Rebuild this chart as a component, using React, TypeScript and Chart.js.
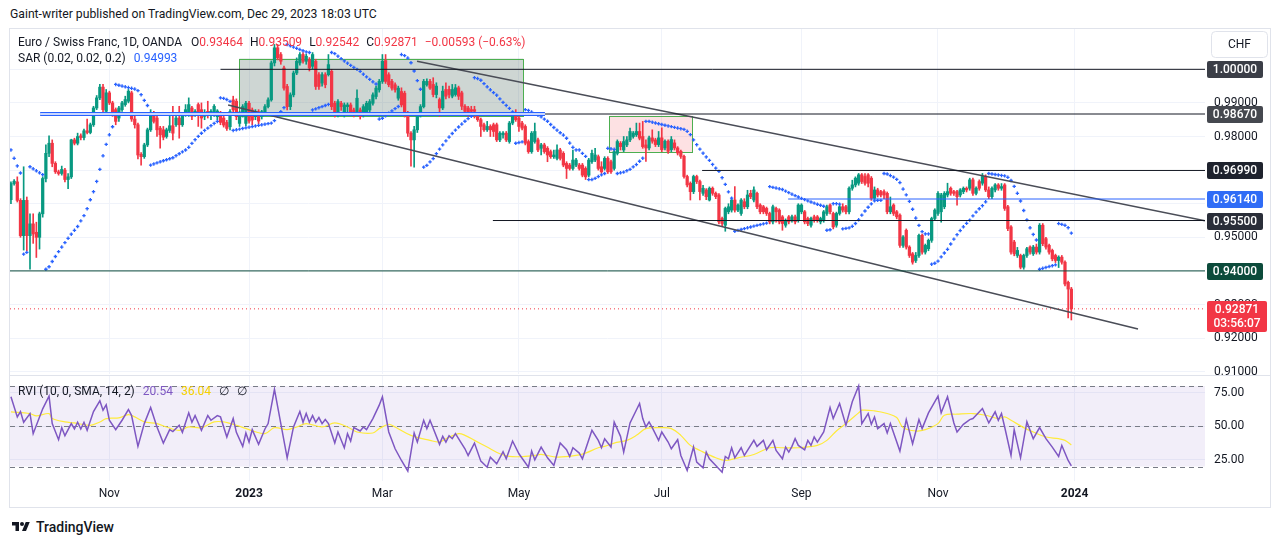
import React, { useEffect, useRef } from "react";
import { Chart, registerables } from "chart.js";

Chart.register(...registerables);

const FONT = "Roboto, 'Noto Sans', Arial, sans-serif";
const INK = "#131722";
const GREEN = "#089981";
const RED = "#f23645";
const BLUE = "#2962ff";

// ---------- daily candles, EUR/CHF, prices in 1/10000 (Sep 19 2022 .. Dec 29 2023) ----------
const openP = [
  9612,9660,9665,9610,9505,9610,9505,9540,9515,9500,
  9570,9675,9750,9780,9720,9695,9690,9700,9672,9680,
  9790,9780,9802,9797,9817,9812,9835,9885,9915,9947,
  9875,9930,9900,9880,9855,9880,9895,9905,9930,9852,
  9835,9747,9740,9775,9820,9870,9855,9825,9820,9800,
  9818,9832,9835,9855,9835,9865,9865,9885,9865,9895,
  9880,9860,9875,9865,9865,
  9859,9866,9855,9842,9829,
  9909,9905,9839,9864,9839,9899,9879,9859,9874,9859,
  9874,9889,9909,10019,10064,10044,10004,9949,9889,9924,
  9989,10019,10044,10024,10029,10009,10024,9984,9959,9984,
  9984,9994,9899,9864,9899,9864,9889,9894,9879,9869,
  9879,9864,9874,9879,9899,9919,9939,9964,10026,9984,
  9964,9954,9914,9934,9929,9869,9810,9790,9820,9864,
  9889,9954,9964,
  9955,9925,9910,9885,9940,9940,9920,
  9925,9945,9930,9890,9885,9880,9880,9860,9850,9835,
  9820,9830,9835,9835,9790,9805,9810,9785,9840,9865,
  9855,9840,9830,9785,9755,9785,9790,9765,9775,9765,
  9755,9740,9735,9760,9750,9720,9715,9705,9715,9715,
  9715,9705,9685,9725,9730,9740,9710,9705,9735,9725,
  9705,9750,9780,9760,9775,9790,9800,9805,9815,9800,
  9775,9766,9796,9790,9776,9796,9766,9786,9761,9781,
  9766,9756,9741,9681,9661,9636,9681,9666,9631,9641,
  9611,9646,9631,9626,9556,9536,9576,9581,9611,9581,
  9571,9606,9591,9631,9611,9631,9596,9591,9586,9571,
  9546,9586,9581,9561,9536,9561,9551,9561,9551,9576,
  9576,9556,9536,9561,9561,9546,9551,9571,9596,9571,
  9536,9571,9591,9591,9576,9646,9656,9661,9686,9681,
  9686,9676,9616,9641,9636,9636,9631,9576,9596,9576,
  9566,9476,9521,9471,9451,9431,9446,9506,9456,9466,
  9491,9556,9571,9576,9591,9626,9646,9636,9636,9626,
  9636,9646,9646,9671,9631,9666,9661,9681,9641,9621,
  9641,9656,9646,9656,9591,9531,9486,9446,9446,9411,
  9446,9471,9451,9471,9456,9536,9496,9476,9461,9446,
  9431,9441,9426,9366,9346,
];
const highP = [
  9665,9672,9680,9615,9710,9620,9570,9570,9545,9575,
  9680,9775,9802,9790,9725,9700,9712,9705,9690,9792,
  9795,9810,9808,9822,9852,9840,9890,9922,9955,9955,
  9940,9935,9905,9885,9890,9905,9920,9940,9935,9862,
  9840,9752,9780,9825,9880,9875,9860,9830,9830,9825,
  9862,9890,9860,9890,9870,9895,9915,9890,9880,9900,
  9900,9880,9905,9880,9895,
  9880,9875,9862,9848,9880,
  9920,9912,9875,9895,9905,9905,9885,9880,9880,9878,
  9895,9915,10025,10074,10074,10050,10010,9955,9930,9995,
  10034,10050,10050,10045,10035,10050,10030,9990,9990,9990,
  10044,10000,9905,9910,9905,9900,9900,9900,9885,9939,
  9885,9895,9905,9910,9930,9950,9970,10044,10044,9990,
  9970,9960,9950,9945,9935,9875,9815,9830,9870,9895,
  9970,9972,9970,
  9975,9960,9915,9950,9960,9950,9955,
  9955,9950,9935,9895,9890,9890,9890,9865,9855,9840,
  9845,9835,9840,9840,9815,9815,9815,9845,9870,9880,
  9860,9845,9835,9790,9815,9840,9795,9780,9780,9770,
  9760,9760,9775,9765,9755,9725,9720,9760,9735,9720,
  9720,9710,9735,9760,9765,9745,9725,9740,9740,9730,
  9760,9790,9785,9800,9800,9825,9815,9840,9840,9845,
  9790,9801,9820,9795,9815,9826,9790,9790,9800,9790,
  9770,9760,9745,9685,9665,9685,9685,9670,9655,9645,
  9650,9650,9635,9630,9560,9590,9600,9615,9651,9600,
  9615,9615,9640,9640,9650,9635,9600,9595,9590,9575,
  9596,9590,9585,9565,9555,9565,9566,9566,9600,9600,
  9580,9560,9560,9566,9565,9560,9580,9596,9600,9575,
  9575,9596,9600,9595,9650,9670,9680,9690,9690,9690,
  9690,9681,9650,9646,9640,9641,9635,9620,9600,9580,
  9570,9505,9525,9475,9455,9455,9510,9510,9480,9495,
  9560,9585,9636,9631,9636,9661,9650,9640,9640,9645,
  9650,9650,9676,9676,9650,9671,9690,9686,9650,9650,
  9660,9660,9660,9660,9595,9535,9491,9470,9450,9450,
  9470,9475,9476,9480,9541,9541,9500,9480,9465,9450,
  9445,9446,9430,9370,9351,
];
const lowP = [
  9600,9655,9605,9500,9462,9460,9405,9482,9440,9465,
  9560,9665,9740,9710,9690,9685,9685,9665,9645,9675,
  9775,9775,9790,9790,9808,9808,9830,9880,9910,9870,
  9865,9895,9860,9835,9845,9875,9890,9900,9845,9825,
  9733,9715,9735,9770,9815,9840,9800,9765,9790,9795,
  9812,9790,9830,9795,9830,9860,9860,9850,9860,9830,
  9825,9850,9855,9850,9860,
  9850,9835,9828,9818,9820,
  9870,9850,9830,9858,9832,9840,9835,9850,9838,9852,
  9870,9885,9905,10010,10028,10015,9938,9879,9880,9918,
  9984,10012,10018,10015,9995,10002,9940,9940,9950,9945,
  9980,9880,9858,9858,9878,9858,9870,9862,9858,9862,
  9852,9858,9868,9872,9893,9912,9932,9958,9958,9948,
  9938,9932,9908,9888,9858,9800,9712,9709,9812,9858,
  9885,9950,9940,
  9918,9915,9860,9880,9912,9915,9915,
  9920,9910,9880,9868,9860,9865,9855,9845,9800,9815,
  9815,9800,9800,9785,9785,9795,9785,9780,9835,9845,
  9815,9820,9775,9750,9750,9780,9755,9745,9750,9725,
  9735,9735,9730,9730,9710,9675,9700,9700,9710,9700,
  9680,9672,9680,9720,9725,9700,9690,9700,9690,9690,
  9700,9745,9760,9755,9770,9785,9795,9800,9790,9765,
  9726,9760,9780,9770,9770,9755,9760,9750,9755,9760,
  9745,9735,9676,9650,9611,9630,9660,9611,9625,9612,
  9608,9625,9615,9540,9535,9518,9570,9575,9575,9576,
  9565,9585,9585,9615,9605,9585,9570,9570,9565,9540,
  9540,9545,9540,9521,9530,9540,9545,9540,9545,9570,
  9540,9535,9530,9545,9545,9540,9545,9565,9570,9525,
  9530,9566,9575,9570,9570,9640,9650,9655,9660,9655,
  9650,9610,9610,9620,9620,9615,9570,9570,9565,9555,
  9470,9470,9465,9440,9420,9425,9440,9450,9450,9460,
  9485,9550,9565,9545,9585,9620,9625,9625,9596,9620,
  9630,9635,9640,9625,9626,9640,9655,9636,9615,9615,
  9635,9640,9640,9580,9520,9450,9445,9440,9406,9405,
  9440,9450,9446,9450,9450,9475,9465,9450,9430,9425,
  9410,9420,9355,9260,9254,
];
const closeP = [
  9660,9667,9610,9505,9610,9505,9540,9510,9500,9570,
  9675,9750,9780,9720,9695,9690,9702,9672,9680,9790,
  9780,9800,9797,9817,9812,9835,9885,9915,9947,9880,
  9930,9900,9870,9845,9885,9900,9910,9935,9852,9835,
  9745,9740,9775,9820,9870,9845,9820,9805,9798,9820,
  9832,9810,9855,9835,9865,9880,9895,9860,9875,9865,
  9855,9870,9865,9875,9890,
  9876,9842,9834,9824,9874,
  9879,9859,9869,9889,9899,9846,9849,9874,9846,9874,
  9889,9909,10019,10064,10034,10024,9944,9889,9924,9989,
  10024,10044,10024,10039,10004,10044,9949,9949,9984,9954,
  10014,9889,9864,9904,9889,9894,9894,9869,9864,9914,
  9859,9889,9899,9904,9924,9944,9964,10024,9964,9954,
  9944,9939,9944,9894,9864,9810,9790,9820,9864,9889,
  9964,9964,9944,
  9925,9950,9885,9935,9920,9925,9940,
  9945,9920,9890,9875,9868,9875,9875,9850,9830,9820,
  9830,9820,9815,9790,9810,9810,9790,9840,9865,9850,
  9830,9825,9780,9755,9810,9815,9760,9775,9755,9745,
  9740,9745,9760,9735,9715,9705,9705,9730,9730,9705,
  9685,9680,9730,9750,9745,9705,9695,9735,9695,9695,
  9755,9785,9770,9785,9790,9815,9810,9815,9795,9770,
  9766,9796,9786,9776,9796,9761,9786,9756,9791,9766,
  9751,9741,9681,9656,9636,9681,9666,9636,9646,9621,
  9646,9631,9621,9546,9541,9586,9591,9611,9581,9596,
  9611,9591,9626,9621,9641,9591,9576,9576,9571,9546,
  9591,9576,9546,9541,9551,9546,9561,9546,9596,9596,
  9546,9541,9556,9551,9551,9556,9576,9591,9576,9531,
  9571,9591,9581,9576,9646,9656,9676,9686,9666,9661,
  9661,9616,9641,9626,9626,9626,9576,9591,9571,9561,
  9476,9501,9471,9446,9426,9446,9506,9456,9476,9491,
  9556,9581,9631,9626,9631,9636,9631,9631,9621,9641,
  9646,9641,9671,9631,9646,9646,9681,9641,9621,9646,
  9656,9646,9651,9586,9526,9456,9451,9461,9411,9446,
  9466,9456,9471,9456,9536,9481,9471,9456,9436,9431,
  9441,9426,9361,9346,9287,
];

// ---------- axes ----------
const dateTickIdx = [31, 75, 117, 160, 205, 249, 292, 335];
const dateTickLabels = ["Nov", "2023", "Mar", "May", "Jul", "Sep", "Nov", "2024"];
const priceTicks = [0.91, 0.92, 0.93, 0.94, 0.95, 0.96, 0.97, 0.98, 0.99, 1.0];
const rviTicks = [25, 50, 75];
const rviBands = [80, 50, 20];
const X_MIN = -0.3;
const X_MAX = 376.1;
const Y_MIN = 0.90932;
const Y_MAX = 1.012;
const RVI_MIN = 9.2;
const RVI_MAX = 87.5;

// ---------- drawings ----------
const levelPrices = [1.0, 0.9867, 0.9699, 0.9614, 0.955, 0.94];
const levelStart = [66, 168.2, 217.7, 244.8, 151.8, -0.3];
const blueLevelSpan = [9.2, 168.2];
const channelUpperX = [127.9, 376.1];
const channelUpperY = [1.00239, 0.95493];
const channelLowerX = [68.4, 355];
const channelLowerY = [0.98937, 0.92269];
const greyBoxX = [71.9, 161.4];
const greyBoxY = [0.9863, 1.0032];
const pinkBoxX = [188.5, 214.6];
const pinkBoxY = [0.97543, 0.9862];
const lastPrice = 0.92871;
const sarSettings = [0.02, 0.02, 0.2];
const sarSeed = [0.976, 0.945, 0.08];

// ---------- RVI (10, SMA 14) ----------
const rviX = [0,2,3,4,6,7,10,12,13,15,16,17,19,20,21,22,23,24,26,28,29,30,31,33,35,37,38,40,42,44,46,48,50,51,53,54,56,57,58,60,62,63,65,66,68,70,71,73,74,75,76,78,80,81,83,85,87,89,91,92,93,94,95,96,97,98,99,100,102,103,105,106,107,108,110,111,112,114,116,117,119,121,123,125,127,128,130,131,132,135,136,137,138,139,140,143,144,146,148,150,151,153,155,156,158,160,163,164,165,
  167,169,171,173,175,176,177,179,180,183,185,186,187,189,190,192,193,195,198,199,200,201,202,204,205,207,208,210,211,213,215,216,218,219,220,222,224,225,226,227,228,230,231,234,235,237,238,240,241,243,244,245,246,247,248,250,251,252,253,254,256,258,259,261,263,265,267,268,270,271,272,273,275,276,277,280,282,284,286,287,289,292,293,295,297,298,300,302,303,304,306,308,310,311,312,313,315,316,318,320,322,324,326,328,330,331,333,334];
const rviVal = [72,57,61,53,59.5,44.5,63,72.5,52,40,49,43,52,48,53,48,53,47,61,69,62,66,54.5,47.5,54.5,62.5,58,35,52,64,49.5,37.5,47.5,46,50.75,45.5,60,53,58,47,58,54.5,58,57,42,55.75,45.5,35,45,38.25,47.5,36.5,48,52,77.5,52,26.5,49.5,61,53,59.5,53,58,53,56.5,52,55,52,37.5,45.75,34,44.5,39,49,46.5,49.5,47.5,55.75,65.75,72,45.75,33.25,24.5,16.5,45,38.25,54.5,48.25,54.5,36.5,42.5,38.25,43,40.75,44.5,33.25,28.25,37.5,24,19.5,27,22,31,25.75,39,29.5,19.5,31.5,25,
  34.5,26.5,20.75,37.5,32.5,27.5,34,30,25.75,47,39.5,34,40.75,34.5,53.25,42.5,30.75,52.5,67,55.75,49.5,53.25,49,39.5,45.75,38.25,33.25,40,28.25,17,34.5,23.25,19,30.75,25.75,20.75,15.75,27.5,25.75,34,26.5,34,28.25,39.5,35,39.5,32.5,39.5,32,25.75,34.5,30.75,35,40.75,35.75,32.5,39.5,35.75,42,38.25,45.75,64,55.75,67,50.75,68.25,80,52,59.5,51.5,57,48.25,52,45,52,31.5,55,37,55,48.25,60,72.5,60,72,52.5,45.75,51.5,55,55.75,58.25,63.25,52.5,60.75,54.5,59.5,49.5,28.25,47.5,26.5,53.25,40.75,49,40.75,34.5,27.5,35.75,24.5,20.54];
const sigX = [0,6,8,12,13,17,20,25,28,30,34,37,39,42,46,49,53,56,60,64,67,71,75,80,83,87,90,93,98,102,106,109,114,116,119,121,126,132,135,137,141,143,146,150,154,157,162,165,
  167,172,178,181,185,187,190,194,197,200,205,208,211,214,217,222,225,229,234,239,243,248,254,257,260,263,267,268,272,276,279,281,285,288,292,294,298,303,307,311,313,315,319,322,326,330,332,334];
const sigVal = [60.75,59.5,57.75,59.5,55.75,53.25,52.5,50.75,53.25,55.75,56.25,58.75,57,53.25,52,49.5,47,49.5,49,53.25,53.25,50.75,47.5,44.5,49,47.5,49.5,52,49.5,52.5,49.5,45.75,45,48.25,51.5,49.5,43.25,39.5,38.25,40.75,44.5,43.25,39.5,34.5,29.5,27.5,27.5,28.25,
  29,27,28.25,30,34,35,37.5,39.5,43.25,48.25,49,48.25,43.25,35.75,32,26.5,24.5,26.5,29,34,34,34,35.75,39.5,46.5,52,60,62,61.5,59.5,56.5,49,46.5,47.5,52,58.25,59,59.5,58.25,55.75,57,54.5,49,45.75,42,40.75,39.5,36.04];

// Parabolic SAR (TradingView ta.sar definition) from the candles
function parabolicSar(h: number[], l: number[]) {
  const [start, inc, maxAf] = sarSettings;
  let result = sarSeed[0];
  let maxMin = sarSeed[1];
  let acc = sarSeed[2];
  let isBelow = false;
  const out: number[] = [result];
  for (let i = 1; i < h.length; i++) {
    let first = false;
    result = result + acc * (maxMin - result);
    if (isBelow) {
      if (result > l[i]) {
        first = true; isBelow = false;
        result = Math.max(h[i], maxMin); maxMin = l[i]; acc = start;
      }
    } else if (result < h[i]) {
      first = true; isBelow = true;
      result = Math.min(l[i], maxMin); maxMin = h[i]; acc = start;
    }
    if (!first) {
      if (isBelow) {
        if (h[i] > maxMin) { maxMin = h[i]; acc = Math.min(acc + inc, maxAf); }
      } else if (l[i] < maxMin) { maxMin = l[i]; acc = Math.min(acc + inc, maxAf); }
    }
    if (isBelow) {
      result = Math.min(result, l[i - 1]);
      if (i > 1) result = Math.min(result, l[i - 2]);
    } else {
      result = Math.max(result, h[i - 1]);
      if (i > 1) result = Math.max(result, h[i - 2]);
    }
    out.push(result);
  }
  return out;
}

const levelLineColors = ["#131722", "#131722", "#131722", BLUE, "#131722", "#0c4b3b"];
const levelTagColors = ["#3b3e47", "#45484f", "#1e222d", "#2f6cf6", "#2a2e39", "#0c4b3b"];

const boxPlugin = {
  id: "boxes",
  beforeDatasetsDraw(chart: any) {
    const { ctx, scales } = chart;
    const x = scales.x, y = scales.y;
    const draw = (xs: number[], ys: number[], fill: string) => {
      const x0 = x.getPixelForValue(xs[0]);
      const x1 = x.getPixelForValue(xs[1]);
      const y0 = y.getPixelForValue(ys[1]);
      const y1 = y.getPixelForValue(ys[0]);
      ctx.save();
      ctx.fillStyle = fill;
      ctx.fillRect(x0, y0, x1 - x0, y1 - y0);
      ctx.strokeStyle = "#4caf50";
      ctx.lineWidth = 1;
      ctx.strokeRect(Math.round(x0) + 0.5, Math.round(y0) + 0.5, Math.round(x1 - x0), Math.round(y1 - y0));
      ctx.restore();
    };
    draw(greyBoxX, greyBoxY, "rgba(60,90,80,0.25)");
    draw(pinkBoxX, pinkBoxY, "rgba(242,54,69,0.15)");
  },
};

const tagPlugin = {
  id: "tags",
  afterDraw(chart: any) {
    const { ctx, chartArea, scales } = chart;
    const y = scales.y;
    const left = chartArea.right + 2;
    ctx.save();
    ctx.textAlign = "center";
    ctx.textBaseline = "middle";
    ctx.font = `500 12px ${FONT}`;
    levelPrices.forEach((p, k) => {
      const py = Math.round(y.getPixelForValue(p));
      ctx.fillStyle = levelTagColors[k];
      ctx.beginPath();
      ctx.roundRect(left, py - 8, 56, 17, 2);
      ctx.fill();
      ctx.fillStyle = "#ffffff";
      ctx.fillText(p.toFixed(5), left + 28, py + 1);
    });
    const ly = Math.round(y.getPixelForValue(lastPrice));
    ctx.fillStyle = RED;
    ctx.beginPath();
    ctx.roundRect(left, ly - 8, 60, 31, 2);
    ctx.fill();
    ctx.fillStyle = "#ffffff";
    ctx.fillText(lastPrice.toFixed(5), left + 30, ly + 1);
    ctx.fillText("03:56:07", left + 30, ly + 15);
    // currency box
    ctx.font = `12px ${FONT}`;
    ctx.strokeStyle = "#e0e3eb";
    ctx.lineWidth = 1;
    ctx.fillStyle = "#ffffff";
    ctx.beginPath();
    ctx.roundRect(1211.5, 31.5, 56, 26, 4);
    ctx.fill();
    ctx.stroke();
    ctx.fillStyle = INK;
    ctx.fillText("CHF", 1239.5, 45);
    ctx.restore();
  },
};

const bandPlugin = {
  id: "bands",
  beforeDatasetsDraw(chart: any) {
    const { ctx, chartArea: a, scales } = chart;
    const y = scales.y;
    const yt = y.getPixelForValue(rviBands[0]);
    const yb = y.getPixelForValue(rviBands[2]);
    ctx.save();
    ctx.fillStyle = "rgba(126,87,194,0.1)";
    ctx.fillRect(a.left, yt, a.right - a.left, yb - yt);
    ctx.strokeStyle = "#787b86";
    ctx.lineWidth = 1;
    ctx.setLineDash([5, 4]);
    rviBands.forEach((v) => {
      const py = Math.round(y.getPixelForValue(v)) + 0.5;
      ctx.beginPath();
      ctx.moveTo(a.left, py);
      ctx.lineTo(a.right, py);
      ctx.stroke();
    });
    ctx.restore();
  },
};

const fitRight = (s: any) => {
  s.width = 76;
  s.paddingTop = 0;
  s.paddingBottom = 0;
};

export default function App() {
  const mainRef = useRef<HTMLCanvasElement>(null);
  const rviRef = useRef<HTMLCanvasElement>(null);

  useEffect(() => {
    const n = openP.length;
    const ids = Array.from({ length: n }, (_, i) => i);
    const colors = ids.map((i) => (closeP[i] >= openP[i] ? GREEN : RED));
    const H = highP.map((v) => v / 1e4);
    const L = lowP.map((v) => v / 1e4);
    const sar = parabolicSar(H, L);
    const seg = (x0: number, x1: number, y0: number, y1: number) => [
      { x: x0, y: y0 },
      { x: x1, y: y1 },
    ];
    const lineDs = (data: any[], color: string, width: number, order = 1, dash: number[] = []) => ({
      type: "line",
      data,
      borderColor: color,
      borderWidth: width,
      borderDash: dash,
      pointRadius: 0,
      fill: false,
      order,
    });

    const main = new Chart(mainRef.current as HTMLCanvasElement, {
      type: "line",
      data: {
        datasets: [
          ...levelPrices.map((p, k) => lineDs(seg(levelStart[k], X_MAX, p, p), levelLineColors[k], 1)),
          lineDs(seg(blueLevelSpan[0], blueLevelSpan[1], levelPrices[1], levelPrices[1]), BLUE, 4, 1),
          lineDs(seg(blueLevelSpan[0], blueLevelSpan[1], levelPrices[1], levelPrices[1]), "#ffffff", 1.4, 0),
          lineDs(seg(channelUpperX[0], channelUpperX[1], channelUpperY[0], channelUpperY[1]), "#4a4d57", 1.5),
          lineDs(seg(channelLowerX[0], channelLowerX[1], channelLowerY[0], channelLowerY[1]), "#4a4d57", 1.5),
          lineDs(seg(X_MIN, X_MAX, lastPrice, lastPrice), RED, 1, 1, [1, 3]),
          {
            type: "line",
            data: ids.map((i) => ({ x: i, y: sar[i] })),
            showLine: false,
            pointStyle: "cross",
            pointRadius: 1.7,
            pointBorderWidth: 1.3,
            pointBorderColor: BLUE,
            pointBackgroundColor: BLUE,
            order: 2,
          },
          {
            type: "bar",
            data: ids.map((i) => ({ x: i, y: [openP[i] / 1e4, closeP[i] / 1e4] })),
            backgroundColor: colors,
            borderWidth: 0,
            barThickness: 2.6,
            grouped: false,
            minBarLength: 1,
            order: 3,
          },
          {
            type: "bar",
            data: ids.map((i) => ({ x: i, y: [L[i], H[i]] })),
            backgroundColor: colors,
            borderWidth: 0,
            barThickness: 1,
            grouped: false,
            order: 4,
          },
        ] as any,
      },
      options: {
        responsive: false,
        animation: false,
        events: [],
        layout: { autoPadding: false, padding: { left: 10, top: 29, right: 0, bottom: 1 } },
        plugins: { legend: { display: false }, tooltip: { enabled: false } },
        scales: {
          x: {
            type: "linear",
            min: X_MIN,
            max: X_MAX,
            offset: false,
            afterBuildTicks: (s: any) => {
              s.ticks = dateTickIdx.map((v) => ({ value: v }));
            },
            afterFit: (s: any) => {
              s.height = 0;
              s.paddingLeft = 0;
              s.paddingRight = 0;
            },
            ticks: { display: false },
            grid: { color: "#f0f3fa", drawTicks: false, offset: false },
            border: { display: false },
          },
          y: {
            type: "linear",
            position: "right",
            min: Y_MIN,
            max: Y_MAX,
            afterBuildTicks: (s: any) => {
              s.ticks = priceTicks.map((v) => ({ value: v }));
            },
            afterFit: fitRight,
            ticks: {
              color: INK,
              padding: 9,
              font: { family: FONT, size: 12 },
              callback: (v: any) => Number(v).toFixed(5),
            },
            grid: { color: "#f0f3fa", drawTicks: false },
            border: { display: false },
          },
        },
      } as any,
      plugins: [boxPlugin, tagPlugin],
    });

    const rvi = new Chart(rviRef.current as HTMLCanvasElement, {
      type: "line",
      data: {
        datasets: [
          {
            data: rviX.map((x, k) => ({ x, y: rviVal[k] })),
            borderColor: "#7e57c2",
            borderWidth: 1.5,
            pointRadius: 0,
            tension: 0,
            order: 1,
          },
          {
            data: sigX.map((x, k) => ({ x, y: sigVal[k] })),
            borderColor: "#ffeb3b",
            borderWidth: 1.2,
            pointRadius: 0,
            tension: 0.35,
            order: 2,
          },
        ],
      },
      options: {
        responsive: false,
        animation: false,
        events: [],
        layout: { autoPadding: false, padding: { left: 10, top: 0, right: 0, bottom: 0 } },
        plugins: { legend: { display: false }, tooltip: { enabled: false } },
        scales: {
          x: {
            type: "linear",
            min: X_MIN,
            max: X_MAX,
            offset: false,
            afterBuildTicks: (s: any) => {
              s.ticks = dateTickIdx.map((v) => ({ value: v }));
            },
            afterFit: (s: any) => {
              s.height = 27;
              s.paddingLeft = 0;
              s.paddingRight = 0;
            },
            ticks: {
              color: INK,
              padding: 6,
              maxRotation: 0,
              autoSkip: false,
              font: (c: any) => ({
                family: FONT,
                size: 12,
                weight: c.index === 1 || c.index === 7 ? "bold" : "normal",
              }),
              callback: (_v: any, i: number) => dateTickLabels[i],
            },
            grid: { color: "#f0f3fa", drawTicks: false, offset: false },
            border: { display: false },
          },
          y: {
            type: "linear",
            position: "right",
            min: RVI_MIN,
            max: RVI_MAX,
            afterBuildTicks: (s: any) => {
              s.ticks = rviTicks.map((v) => ({ value: v }));
            },
            afterFit: fitRight,
            ticks: {
              color: INK,
              padding: 9,
              font: { family: FONT, size: 12 },
              callback: (v: any) => Number(v).toFixed(2),
            },
            grid: { color: "#f0f3fa", drawTicks: false },
            border: { display: false },
          },
        },
      } as any,
      plugins: [bandPlugin],
    });

    return () => {
      main.destroy();
      rvi.destroy();
    };
  }, []);

  const txt: React.CSSProperties = { position: "absolute", whiteSpace: "nowrap", fontSize: 12, lineHeight: "14px", color: INK };

  return (
    <div style={{ position: "absolute", left: 0, top: 0, width: 1281, height: 545, background: "#ffffff", overflow: "hidden", fontFamily: FONT }}>
      <div style={{ ...txt, left: 10, top: 7, fontSize: 12.2 }}>Gaint-writer published on TradingView.com, Dec 29, 2023 18:03 UTC</div>
      <div style={{ position: "absolute", left: 9, top: 28, width: 1262, height: 480, border: "1px solid #e0e3eb", boxSizing: "border-box" }} />
      <canvas ref={mainRef} width={1281} height={375} style={{ position: "absolute", left: 0, top: 0 }} />
      <div style={{ position: "absolute", left: 9, top: 375, width: 1262, height: 1, background: "#e0e3eb" }} />
      <canvas ref={rviRef} width={1281} height={132} style={{ position: "absolute", left: 0, top: 376 }} />
      <div style={{ ...txt, left: 18, top: 35 }}>
        <span>Euro / Swiss Franc, 1D, OANDA</span>
        <span style={{ marginLeft: 9 }}>O</span><span style={{ color: RED }}>0.93464</span>
        <span style={{ marginLeft: 7 }}>H</span><span style={{ color: RED }}>0.93509</span>
        <span style={{ marginLeft: 7 }}>L</span><span style={{ color: RED }}>0.92542</span>
        <span style={{ marginLeft: 7 }}>C</span><span style={{ color: RED }}>0.92871</span>
        <span style={{ marginLeft: 7, color: RED }}>−0.00593 (−0.63%)</span>
      </div>
      <div style={{ ...txt, left: 18, top: 51 }}>
        <span>SAR (0.02, 0.02, 0.2)</span>
        <span style={{ marginLeft: 8, color: BLUE }}>0.94993</span>
      </div>
      <div style={{ ...txt, left: 18, top: 384 }}>
        <span>RVI (10, 0, SMA, 14, 2)</span>
        <span style={{ marginLeft: 8, color: "#7e57c2" }}>20.54</span>
        <span style={{ marginLeft: 8, color: "#f5d000" }}>36.04</span>
        <span style={{ marginLeft: 8 }}>∅</span>
        <span style={{ marginLeft: 8 }}>∅</span>
      </div>
      <div style={{ position: "absolute", left: 10, top: 519, display: "flex", alignItems: "center" }}>
        <svg width="22" height="14" viewBox="0 0 36 28">
          <path d="M14 22H7V11H0V4h14v18zM28 22h-8l7.5-18h8L28 22z" fill={INK} />
          <circle cx="20" cy="8" r="4" fill={INK} />
        </svg>
        <span style={{ marginLeft: 4, fontSize: 14, fontWeight: 500, color: INK }}>TradingView</span>
      </div>
    </div>
  );
}
